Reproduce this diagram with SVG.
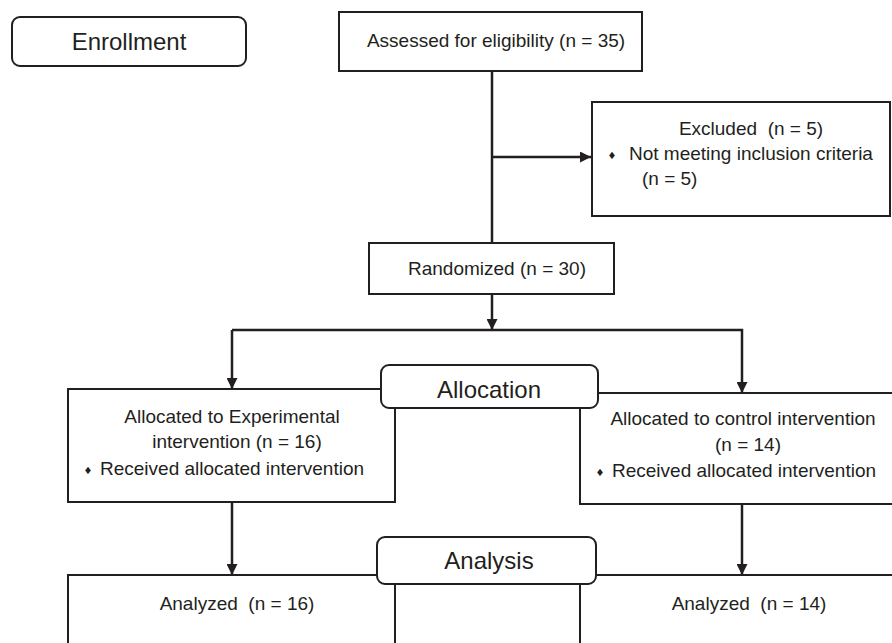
<svg xmlns="http://www.w3.org/2000/svg" width="892" height="643" viewBox="0 0 892 643">
<style>
.box{fill:#fff;stroke:#231f20;stroke-width:2}
.hdr{fill:#fff;stroke:#231f20;stroke-width:2}
.ln{fill:none;stroke:#231f20;stroke-width:2.5}
text{font-family:"Liberation Sans",Arial,sans-serif;fill:#231f20}
.t{font-size:19px}
.h{font-size:24px}
.b{font-family:"DejaVu Sans",sans-serif;font-size:10px}
</style>
<defs>
<marker id="ah" viewBox="0 0 10 10" refX="10" refY="5" markerWidth="4.4" markerHeight="4.4" markerUnits="strokeWidth" orient="auto">
<path d="M0,0 L10,5 L0,10 Z" fill="#231f20"/>
</marker>
</defs>
<g id="connectors">
<line class="ln" x1="492" y1="71" x2="492" y2="243"/>
<line class="ln" x1="492" y1="157" x2="591" y2="157" marker-end="url(#ah)"/>
<line class="ln" x1="492" y1="294" x2="492" y2="330" marker-end="url(#ah)"/>
<polyline class="ln" points="232,330 742,330 742,393" marker-end="url(#ah)"/>
<line class="ln" x1="232" y1="330" x2="232" y2="389" marker-end="url(#ah)"/>
<line class="ln" x1="232" y1="502" x2="232" y2="575" marker-end="url(#ah)"/>
<line class="ln" x1="742" y1="504" x2="742" y2="575" marker-end="url(#ah)"/>
</g>
<g id="enrollment">
<rect class="hdr" x="12" y="17" width="234" height="49" rx="8"/>
<text class="h" x="129" y="50" text-anchor="middle">Enrollment</text>
</g>
<g id="assessed">
<rect class="box" x="339" y="12" width="303" height="59"/>
<text class="t" x="496" y="47" text-anchor="middle">Assessed for eligibility (n = 35)</text>
</g>
<g id="excluded">
<rect class="box" x="592" y="102" width="298" height="114"/>
<text class="t" x="751" y="135" text-anchor="middle" xml:space="preserve">Excluded  (n = 5)</text>
<text class="b" x="612" y="159" text-anchor="middle">♦</text>
<text class="t" x="629" y="160">Not meeting inclusion criteria</text>
<text class="t" x="642" y="185">(n = 5)</text>
</g>
<g id="randomized">
<rect class="box" x="369" y="243" width="245" height="51"/>
<text class="t" x="497" y="275" text-anchor="middle">Randomized (n = 30)</text>
</g>
<g id="alloc-exp">
<rect class="box" x="68" y="389" width="327" height="113"/>
<text class="t" x="232" y="423" text-anchor="middle">Allocated to Experimental</text>
<text class="t" x="237" y="448" text-anchor="middle">intervention (n = 16)</text>
<text class="b" x="88" y="474" text-anchor="middle">♦</text>
<text class="t" x="100" y="475">Received allocated intervention</text>
</g>
<g id="alloc-ctrl">
<rect class="box" x="580" y="393" width="330" height="111"/>
<text class="t" x="743" y="425" text-anchor="middle">Allocated to control intervention</text>
<text class="t" x="748" y="451" text-anchor="middle">(n = 14)</text>
<text class="b" x="600" y="476" text-anchor="middle">♦</text>
<text class="t" x="612" y="477">Received allocated intervention</text>
</g>
<g id="allocation">
<rect class="hdr" x="381" y="365" width="217" height="43" rx="8"/>
<text class="h" x="489" y="398" text-anchor="middle">Allocation</text>
</g>
<g id="analyzed-exp">
<rect class="box" x="68" y="575" width="327" height="100"/>
<text class="t" x="237" y="610" text-anchor="middle" xml:space="preserve">Analyzed  (n = 16)</text>
</g>
<g id="analyzed-ctrl">
<rect class="box" x="580" y="575" width="330" height="100"/>
<text class="t" x="749" y="610" text-anchor="middle" xml:space="preserve">Analyzed  (n = 14)</text>
</g>
<g id="analysis">
<rect class="hdr" x="377" y="537" width="219" height="47" rx="8"/>
<text class="h" x="489" y="569" text-anchor="middle">Analysis</text>
</g>
</svg>
